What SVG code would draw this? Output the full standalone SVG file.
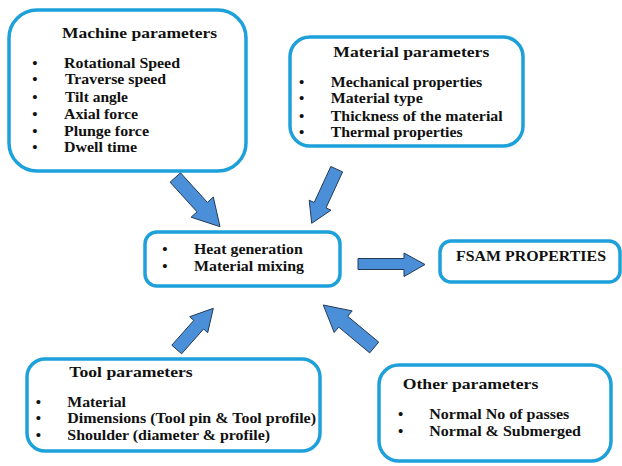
<svg xmlns="http://www.w3.org/2000/svg" width="622" height="466" viewBox="0 0 622 466" font-family="Liberation Serif, serif" font-weight="bold">
<style>
.box{fill:#fff;stroke:#1ea0da;stroke-width:3.5}
.h{font-size:15px;fill:#111}
.i{font-size:14px;fill:#111}
.b{font-size:15px;text-anchor:middle;fill:#111}
.arr{fill:#4a8fd8;stroke:#243a55;stroke-width:1;stroke-linejoin:miter}
</style>
<rect width="622" height="466" fill="#fff"/>
<g id="machine" font-family="Liberation Serif" font-weight="bold">
<rect class="box" x="9" y="10" width="237" height="161" rx="28"/>
<text class="h" x="62" y="37.5" textLength="155" lengthAdjust="spacingAndGlyphs">Machine parameters</text>
<text class="b" x="35" y="67.5">•</text><text class="i" x="64" y="67.5" textLength="116" lengthAdjust="spacingAndGlyphs">Rotational Speed</text>
<text class="b" x="35" y="84.3">•</text><text class="i" x="65" y="84.3" textLength="101" lengthAdjust="spacingAndGlyphs">Traverse speed</text>
<text class="b" x="35" y="101.5">•</text><text class="i" x="65" y="101.5" textLength="63" lengthAdjust="spacingAndGlyphs">Tilt angle</text>
<text class="b" x="35" y="118.8">•</text><text class="i" x="64" y="118.8" textLength="74" lengthAdjust="spacingAndGlyphs">Axial force</text>
<text class="b" x="35" y="135.6">•</text><text class="i" x="64" y="135.6" textLength="85" lengthAdjust="spacingAndGlyphs">Plunge force</text>
<text class="b" x="35" y="152.3">•</text><text class="i" x="64" y="152.3" textLength="73" lengthAdjust="spacingAndGlyphs">Dwell time</text>
</g>
<g id="material" font-family="Liberation Serif" font-weight="bold">
<rect class="box" x="290" y="37" width="233" height="109" rx="20"/>
<text class="h" x="333.3" y="57.3" textLength="156" lengthAdjust="spacingAndGlyphs">Material parameters</text>
<text class="b" x="301.7" y="86.7">•</text><text class="i" x="330.7" y="86.7" textLength="151.6" lengthAdjust="spacingAndGlyphs">Mechanical properties</text>
<text class="b" x="301.7" y="103.3">•</text><text class="i" x="330.7" y="103.3" textLength="92" lengthAdjust="spacingAndGlyphs">Material type</text>
<text class="b" x="301.7" y="121">•</text><text class="i" x="330.7" y="121" textLength="172" lengthAdjust="spacingAndGlyphs">Thickness of the material</text>
<text class="b" x="301.7" y="137.3">•</text><text class="i" x="330.7" y="137.3" textLength="132" lengthAdjust="spacingAndGlyphs">Thermal properties</text>
</g>
<g id="center" font-family="Liberation Serif" font-weight="bold">
<rect class="box" x="145" y="232" width="195" height="54" rx="12"/>
<text class="b" x="165" y="254">•</text><text class="i" x="194" y="254" textLength="108.7" lengthAdjust="spacingAndGlyphs">Heat generation</text>
<text class="b" x="165" y="270.5">•</text><text class="i" x="194" y="270.5" textLength="110" lengthAdjust="spacingAndGlyphs">Material mixing</text>
</g>
<g id="fsam" font-family="Liberation Serif" font-weight="bold">
<rect class="box" x="440" y="241" width="180" height="41" rx="11"/>
<text class="i" x="456" y="260.7" textLength="150" lengthAdjust="spacingAndGlyphs">FSAM PROPERTIES</text>
</g>
<g id="tool" font-family="Liberation Serif" font-weight="bold">
<rect class="box" x="27" y="359" width="293" height="92" rx="18"/>
<text class="h" x="69.3" y="376.7" textLength="123.4" lengthAdjust="spacingAndGlyphs">Tool parameters</text>
<text class="b" x="38.3" y="406.7">•</text><text class="i" x="67.3" y="406.7" textLength="58.7" lengthAdjust="spacingAndGlyphs">Material</text>
<text class="b" x="38.3" y="423.3">•</text><text class="i" x="67.3" y="423.3" textLength="248.7" lengthAdjust="spacingAndGlyphs">Dimensions (Tool pin &amp; Tool profile)</text>
<text class="b" x="38.3" y="440">•</text><text class="i" x="67.3" y="440" textLength="202.7" lengthAdjust="spacingAndGlyphs">Shoulder (diameter &amp; profile)</text>
</g>
<g id="other" font-family="Liberation Serif" font-weight="bold">
<rect class="box" x="379" y="365" width="232" height="96" rx="20"/>
<text class="h" x="402.7" y="389" textLength="135.6" lengthAdjust="spacingAndGlyphs">Other parameters</text>
<text class="b" x="400.7" y="419">•</text><text class="i" x="429.3" y="419" textLength="140" lengthAdjust="spacingAndGlyphs">Normal No of passes</text>
<text class="b" x="400.7" y="435.7">•</text><text class="i" x="429.3" y="435.7" textLength="151.7" lengthAdjust="spacingAndGlyphs">Normal &amp; Submerged</text>
</g>
<g id="connectors">
<polygon class="arr" points="180.5,172.8 207.4,202.4 213.3,197.0 220,226.7 191.1,217.2 197.0,211.8 170.1,182.2"/>
<polygon class="arr" points="342.6,171.9 326.0,207.9 331.0,210.2 311.7,223.3 309.2,200.2 314.2,202.5 330.8,166.5"/>
<polygon class="arr" points="181.6,353.8 203.6,329.0 207.7,332.7 213.3,308.3 189.7,316.7 193.8,320.4 171.8,345.2"/>
<polygon class="arr" points="378.7,342.1 347.7,316.3 352.2,310.9 323.3,305 334.2,332.5 338.7,327.1 369.7,352.9"/>
<polygon class="arr" points="358,258.5 404,258.5 404,253 425,264.5 404,276.5 404,269.5 358,269.5"/>
</g>
</svg>
